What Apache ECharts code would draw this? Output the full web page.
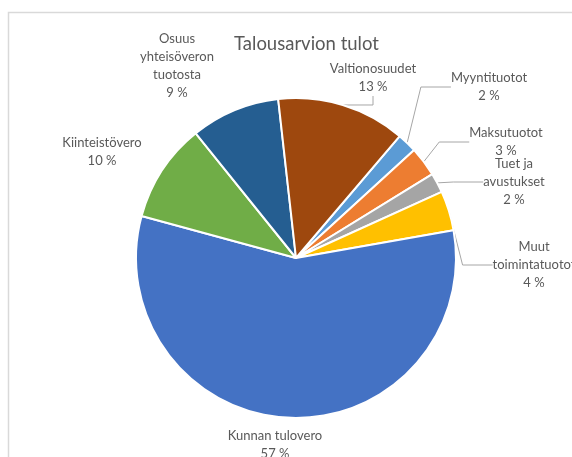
<!DOCTYPE html>
<html>
<head>
<meta charset="utf-8">
<script src="https://cdn.jsdelivr.net/npm/echarts@6/dist/echarts.min.js"></script>
<style>
  html, body { margin: 0; padding: 0; background: #fff; }
  #pie { width: 572px; height: 457px; }
</style>
</head>
<body>
<div id="pie"></div>
<script>
// tulolajit, Excelin järjestyksessä (värit Office-teeman mukaan)
const categories = [
  'Myyntituotot',
  'Maksutuotot',
  'Tuet ja\navustukset',
  'Muut\ntoimintatuotot',
  'Kunnan tulovero',
  'Kiinteistövero',
  'Osuus\nyhteisöveron\ntuotosta',
  'Valtionosuudet'
]
const shares = [2, 3, 2, 4, 57, 10, 9, 13]
const colors = ['#5B9BD5', '#ED7D31', '#A5A5A5', '#FFC000', '#4472C4', '#70AD47', '#255E91', '#9E480E']
// which labels get a leader line
const leader = [true, true, true, true, false, false, false, true]
// label block centres
const labelPos = [
  [489, 87], [506, 142], [514, 182], [534, 265],
  [275, 445], [102, 152], [177, 66], [373, 78]
]

const chart = echarts.init(document.getElementById('pie'))
chart.setOption({
  textStyle: { fontFamily: 'Lato' },
  title: {
    text: 'Talousarvion tulot',
    left: 229,
    top: 30,
    textStyle: { fontFamily: 'Lato', fontSize: 18.5, fontWeight: 'normal', color: '#595959' }
  },
  graphic: [{
    type: 'polyline',
    shape: { points: [[8.5, 460], [8.5, 12.5], [580, 12.5]] },
    style: { stroke: '#d9d9d9', lineWidth: 1.5, fill: null },
    silent: true
  }],
  series: [{
    type: 'pie',
    center: [296, 258],
    radius: 160,
    startAngle: 49.6,
    clockwise: true,
    avoidLabelOverlap: false,
    itemStyle: { borderColor: '#fff', borderWidth: 2 },
    label: {
      show: true,
      position: 'outside',
      fontFamily: 'Lato',
      fontSize: 13,
      lineHeight: 18,
      color: '#595959',
      align: 'center',
      formatter: p => p.name + '\n' + Math.round(p.percent) + ' %'
    },
    labelLine: { lineStyle: { color: '#a6a6a6', width: 1 } },
    labelLayout: p => ({
      x: labelPos[p.dataIndex][0],
      y: labelPos[p.dataIndex][1],
      align: 'center',
      verticalAlign: 'middle'
    }),
    emphasis: { disabled: true },
    data: categories.map((c, i) => ({
      name: c,
      value: shares[i],
      itemStyle: { color: colors[i] },
      labelLine: { show: leader[i] }
    }))
  }]
})
</script>
</body>
</html>
